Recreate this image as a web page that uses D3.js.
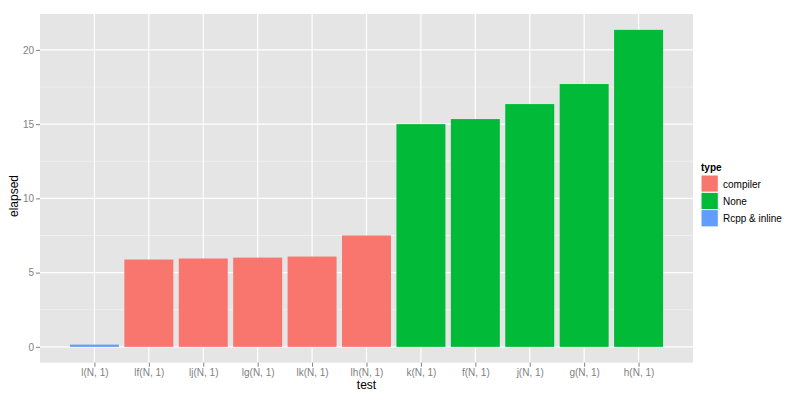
<!DOCTYPE html>
<style>
body { margin: 0; background: #fff; }
text { font-family: "Liberation Sans", Arial, sans-serif; }
</style>
<script src="https://d3js.org/d3.v7.min.js"></script>
<body>
<script>

var tests = ["l(N, 1)", "lf(N, 1)", "lj(N, 1)", "lg(N, 1)", "lk(N, 1)", "lh(N, 1)",
             "k(N, 1)", "f(N, 1)", "j(N, 1)", "g(N, 1)", "h(N, 1)"];
var elapsed = [0.15, 5.88, 5.95, 6.01, 6.08, 7.5, 15.0, 15.34, 16.35, 17.7, 21.35];
var types = ["Rcpp & inline", "compiler", "compiler", "compiler", "compiler", "compiler",
             "None", "None", "None", "None", "None"];
var typeLevels = ["compiler", "None", "Rcpp & inline"];
var yTicks = [0, 5, 10, 15, 20];
var yMinor = [2.5, 7.5, 12.5, 17.5];

var width = 800,
    height = 400;

var svg = d3.select("body").append("svg")
    .attr("width", width)
    .attr("height", height);

var pLeft = 40, pRight = 693, pTop = 14, pBottom = 362.7;

var ymax = d3.max(elapsed);
var y = d3.scaleLinear()
    .domain([-ymax * 0.05, ymax * 1.05])
    .range([pBottom, pTop]);

var x = d3.scaleLinear()
    .domain([0, tests.length + 1])
    .range([pLeft, pRight]);

var color = d3.scaleOrdinal()
    .domain(typeLevels)
    .range(["#F8766D", "#00BA38", "#619CFF"]);

// panel
svg.append("rect")
    .attr("x", pLeft)
    .attr("y", pTop)
    .attr("width", pRight - pLeft)
    .attr("height", pBottom - pTop)
    .attr("fill", "#e5e5e5");

svg.selectAll(".minor")
  .data(yMinor)
  .enter().append("line")
    .attr("x1", pLeft).attr("x2", pRight)
    .attr("y1", function(d) { return y(d); })
    .attr("y2", function(d) { return y(d); })
    .attr("stroke", "#f2f2f2")
    .attr("stroke-width", 0.8);

svg.selectAll(".major")
  .data(yTicks)
  .enter().append("line")
    .attr("x1", pLeft).attr("x2", pRight)
    .attr("y1", function(d) { return y(d); })
    .attr("y2", function(d) { return y(d); })
    .attr("stroke", "#fff")
    .attr("stroke-width", 1.2);

svg.selectAll(".vgrid")
  .data(tests)
  .enter().append("line")
    .attr("x1", function(d, i) { return x(i + 1); })
    .attr("x2", function(d, i) { return x(i + 1); })
    .attr("y1", pTop).attr("y2", pBottom)
    .attr("stroke", "#fff")
    .attr("stroke-width", 1.2);

// bars
var bw = x(0.9) - x(0);
svg.selectAll(".bar")
  .data(elapsed)
  .enter().append("rect")
    .attr("x", function(d, i) { return x(i + 1) - bw / 2; })
    .attr("width", bw)
    .attr("y", function(d) { return y(d); })
    .attr("height", function(d) { return y(0) - y(d); })
    .attr("fill", function(d, i) { return color(types[i]); });

// y axis
var yAxis = svg.append("g")
    .attr("transform", "translate(" + pLeft + ",0)")
    .call(d3.axisLeft(y).tickValues(yTicks).tickSize(4).tickPadding(2));
yAxis.select(".domain").remove();
yAxis.selectAll("line").attr("stroke", "#7f7f7f");
yAxis.selectAll("text")
    .attr("fill", "#7f7f7f")
    .style("font-size", "10px")
    .style("font-family", "Liberation Sans, Arial, sans-serif");

// x axis
var xAxis = svg.append("g")
    .attr("transform", "translate(0," + pBottom + ")")
    .call(d3.axisBottom(x)
      .tickValues(d3.range(1, tests.length + 1))
      .tickFormat(function(d) { return tests[d - 1]; })
      .tickSize(4).tickPadding(2));
xAxis.select(".domain").remove();
xAxis.selectAll("line").attr("stroke", "#7f7f7f");
xAxis.selectAll("text")
    .attr("fill", "#7f7f7f")
    .style("font-size", "10px")
    .style("font-family", "Liberation Sans, Arial, sans-serif");

svg.append("text")
    .attr("x", (pLeft + pRight) / 2)
    .attr("y", 389)
    .attr("text-anchor", "middle")
    .style("font-size", "12px")
    .text("test");

svg.append("text")
    .attr("transform", "translate(18,196) rotate(-90)")
    .attr("text-anchor", "middle")
    .style("font-size", "12px")
    .text("elapsed");

// legend
var lg = svg.append("g").attr("transform", "translate(701,175)");
lg.append("text")
    .attr("x", 0)
    .attr("y", -4)
    .style("font-size", "10px")
    .attr("font-weight", "bold")
    .text("type");

var item = lg.selectAll(".item")
  .data(typeLevels)
  .enter().append("g")
    .attr("transform", function(d, i) { return "translate(0," + (i * 17.3) + ")"; });

item.append("rect")
    .attr("width", 17.3)
    .attr("height", 17.3)
    .attr("fill", function(d) { return color(d); })
    .attr("stroke", "#fff")
    .attr("stroke-width", 1);

item.append("text")
    .attr("x", 22)
    .attr("y", 12.5)
    .style("font-size", "10px")
    .text(function(d) { return d; });

</script>
